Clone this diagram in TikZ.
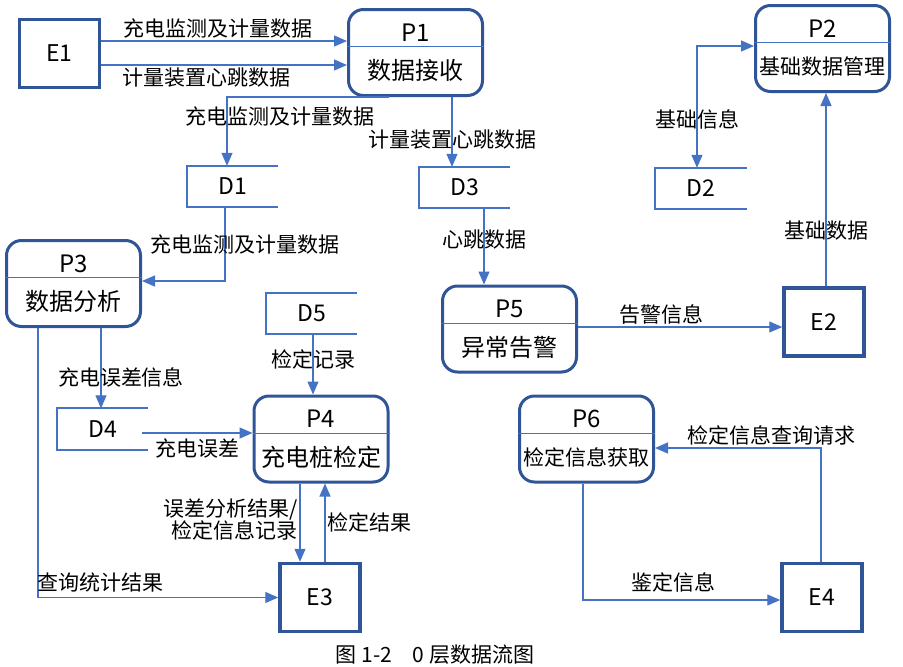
\documentclass[tikz,border=0pt]{standalone}
\usepackage{fontspec}
\setmainfont{Noto Sans CJK SC}
\usepackage{xcolor}
\usepackage{tikz}
\usetikzlibrary{arrows.meta}
\usetikzlibrary{positioning}

\definecolor{boxblue}{HTML}{2F5597}
\definecolor{lineblue}{HTML}{4472C4}

\begin{document}
\begin{tikzpicture}[
    x=1pt, y=-1pt,
    ext/.style={rectangle, draw=boxblue, line width=3.5pt, minimum width=80pt, minimum height=68pt, font=\fontsize{23}{26}\selectfont},
    proc/.style={rectangle, rounded corners=15pt, draw=boxblue, line width=3pt, minimum width=134pt, minimum height=86pt},
    ptxt/.style={font=\fontsize{24}{28}\selectfont, inner sep=0pt},
    pline/.style={draw=lineblue, line width=1pt},
    dstore/.style={rectangle, inner sep=0pt, minimum width=91pt, minimum height=41pt, font=\fontsize{23}{26}\selectfont},
    store/.style={draw=lineblue, line width=2pt},
    flow/.style={->, draw=lineblue, line width=1.3pt},
    lbl/.style={font=\fontsize{21}{22}\selectfont, inner sep=2pt},
  ]
  \tikzset{>={Triangle[length=13pt, width=11pt]}}
  \useasboundingbox (0,0) rectangle (903,667);

  % External entities
  \node[ext] (e1) at (59.5,53.5)  {E1};
  \node[ext] (e2) at (824,322)    {E2};
  \node[ext] (e3) at (320,597.5)  {E3};
  \node[ext] (e4) at (822,597.5)  {E4};

  % Processes
  \node[proc] (p1) at (415.5,52.5) {};
  \draw[pline] ([yshift=6pt]p1.west) -- ([yshift=6pt]p1.east);
  \node[ptxt] (p1id) at ([yshift=20pt]p1.center)  {P1};
  \node[ptxt] (p1t)  at ([yshift=-18pt]p1.center) {数据接收};

  \node[proc] (p2) at (822.5,48.5) {};
  \draw[pline] ([yshift=6pt]p2.west) -- ([yshift=6pt]p2.east);
  \node[ptxt] (p2id) at ([yshift=20pt]p2.center)  {P2};
  \node[ptxt, font=\fontsize{21}{24}\selectfont]
       (p2t)  at ([yshift=-18pt]p2.center) {基础数据管理};

  \node[proc] (p3) at (73.5,283.5) {};
  \draw[pline] ([yshift=6pt]p3.west) -- ([yshift=6pt]p3.east);
  \node[ptxt] (p3id) at ([yshift=20pt]p3.center)  {P3};
  \node[ptxt] (p3t)  at ([yshift=-18pt]p3.center) {数据分析};

  \node[proc] (p4) at (321,439) {};
  \draw[pline] ([yshift=6pt]p4.west) -- ([yshift=6pt]p4.east);
  \node[ptxt] (p4id) at ([yshift=20pt]p4.center)  {P4};
  \node[ptxt] (p4t)  at ([yshift=-18pt]p4.center) {充电桩检定};

  \node[proc] (p5) at (509.5,329) {};
  \draw[pline] ([yshift=6pt]p5.west) -- ([yshift=6pt]p5.east);
  \node[ptxt] (p5id) at ([yshift=20pt]p5.center)  {P5};
  \node[ptxt] (p5t)  at ([yshift=-18pt]p5.center) {异常告警};

  \node[proc] (p6) at (586.5,439) {};
  \draw[pline] ([yshift=6pt]p6.west) -- ([yshift=6pt]p6.east);
  \node[ptxt] (p6id) at ([yshift=20pt]p6.center)  {P6};
  \node[ptxt, font=\fontsize{21}{24}\selectfont]
       (p6t)  at ([yshift=-18pt]p6.center) {检定信息获取};

  % Data stores
  \node[dstore] (d1) at (232.5,186.5) {D1};
  \node[dstore] (d2) at (701,188.5)   {D2};
  \node[dstore] (d3) at (464.5,187.5) {D3};
  \node[dstore] (d4) at (102.5,429)   {D4};
  \node[dstore] (d5) at (311.5,313.5) {D5};
  \foreach \d in {d1,d2,d3,d4,d5}
    \draw[store] (\d.north east) -- (\d.north west) -- (\d.south west) -- (\d.south east);

  % Data flows
  \draw[flow] (e1.east |- 0,41) -- (p1.west |- 0,41)
    node[lbl, midway, above, xshift=-6pt] (l1) {充电监测及计量数据};
  \draw[flow] (e1.east |- 0,65) -- (p1.west |- 0,65)
    node[lbl, midway, below, xshift=-18pt] (l2) {计量装置心跳数据};

  \draw[flow] ([xshift=41.5pt]p1.south west) -| ([xshift=-5.5pt]d1.north);
  \node[lbl] (l3) at (280,117) {充电监测及计量数据};
  \draw[flow] ([xshift=-12.5pt]d3.north |- p1.south) -- ([xshift=-12.5pt]d3.north)
    node[lbl, midway, yshift=-8pt] (l4) {计量装置心跳数据};

  \draw[flow, <->] ([xshift=-4pt]d2.north) |- ([yshift=2.5pt]p2.west)
    node[lbl, pos=0.2] (l5) {基础信息};
  \draw[flow] ([xshift=2pt]e2.north) -- ([xshift=2pt]e2.north |- p2.south)
    node[lbl, pos=0.29] (l6) {基础数据};

  \draw[flow] ([xshift=-7.5pt]d1.south) |- ([yshift=2.5pt]p3.east)
    node[lbl, pos=0.25, xshift=20pt] (l7) {充电监测及计量数据};
  \draw[flow] ([xshift=19.5pt]d3.south) -- ([xshift=19.5pt]d3.south |- p5.north)
    node[lbl, midway, yshift=7pt] (l8) {心跳数据};
  \draw[flow] ([yshift=2pt]p5.east) -- ([yshift=2pt]p5.east -| e2.west)
    node[lbl, pos=0.41, above] (l9) {告警信息};

  \draw[flow] ([xshift=-1.5pt]d4.north |- p3.south) -- ([xshift=-1.5pt]d4.north)
    node[lbl, midway, xshift=20pt, yshift=-9.5pt] (l10) {充电误差信息};
  \draw[flow] ([xshift=1.5pt]d5.south) -- ([xshift=1.5pt]d5.south |- p4.north)
    node[lbl, midway, yshift=5pt] (l11) {检定记录};
  \draw[flow] ([xshift=-6pt, yshift=-4pt]d4.east) -- ([yshift=6pt]p4.west)
    node[lbl, midway, below, yshift=-3pt] (l12) {充电误差};

  \draw[flow] ([xshift=-21pt]p4.south) -- ([xshift=-21pt]p4.south |- e3.north)
    node[lbl, midway, left, align=right, yshift=3pt] (l13) {误差分析结果/\\检定信息记录};
  \draw[flow] ([xshift=5pt]e3.north) -- ([xshift=5pt]e3.north |- p4.south)
    node[lbl, midway, right] (l14) {检定结果};
  \draw[flow] ([xshift=-35.5pt]p3.south) |- (e3.west)
    node[lbl, pos=0.63, above, yshift=3pt] (l15) {查询统计结果};

  \draw[flow] ([xshift=-1pt]e4.north) |- ([yshift=-9pt]p6.east)
    node[lbl, pos=0.65, above] (l16) {检定信息查询请求};
  \draw[flow] ([xshift=-3.5pt]p6.south) |- ([yshift=-2.5pt]e4.west)
    node[lbl, pos=0.73, above, yshift=5pt] (l17) {鉴定信息};

  % Caption
  \node[font=\fontsize{21}{24}\selectfont] (cap) at (435,655) {图 1-2\hspace{1em}0 层数据流图};

\end{tikzpicture}
\end{document}
